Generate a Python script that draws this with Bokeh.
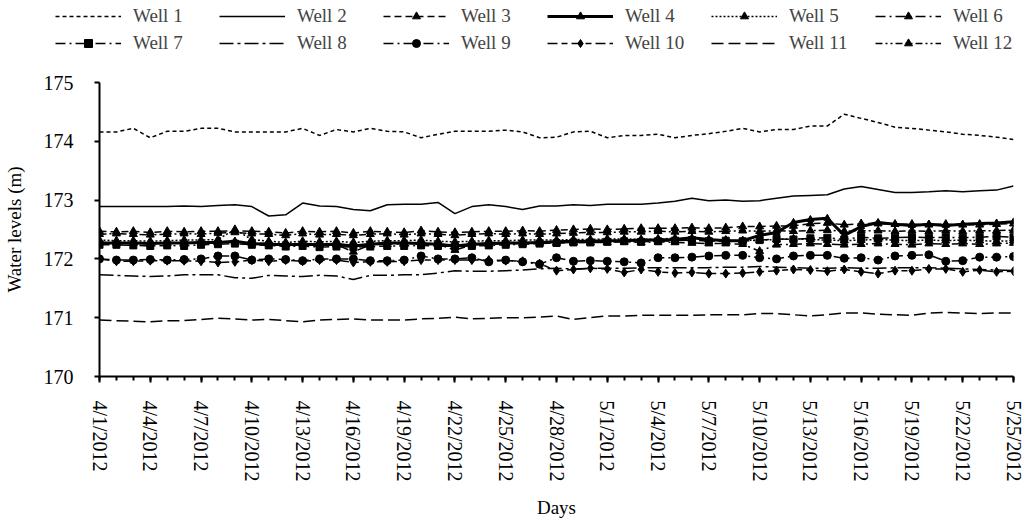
import math
import pandas as pd
from bokeh.plotting import figure
from bokeh.layouts import column, row
from bokeh.models import Range1d, FixedTicker, Legend, LegendItem
from bokeh.embed import file_html
from bokeh.resources import INLINE

dates = pd.date_range("2012-04-01", "2012-05-25")
date_labels = [f"{d.month}/{d.day}/{d.year}" for d in dates]
days = list(range(len(dates)))

well1 = [174.16, 174.16, 174.22, 174.06, 174.17, 174.17, 174.22, 174.22, 174.16, 174.16,
         174.16, 174.16, 174.22, 174.10, 174.20, 174.16, 174.22, 174.17, 174.16, 174.06,
         174.12, 174.17, 174.17, 174.17, 174.19, 174.16, 174.06, 174.07, 174.16, 174.17,
         174.06, 174.10, 174.10, 174.12, 174.06, 174.10, 174.13, 174.17, 174.22, 174.16,
         174.20, 174.20, 174.26, 174.26, 174.46, 174.39, 174.32, 174.24, 174.22, 174.19,
         174.16, 174.12, 174.10, 174.07, 174.03]
well2 = [172.89, 172.89, 172.89, 172.89, 172.89, 172.90, 172.89, 172.91, 172.92, 172.89,
         172.73, 172.75, 172.95, 172.90, 172.89, 172.84, 172.82, 172.92, 172.93, 172.93,
         172.96, 172.77, 172.89, 172.92, 172.89, 172.84, 172.90, 172.90, 172.92, 172.91,
         172.93, 172.93, 172.93, 172.95, 172.98, 173.03, 172.99, 173.00, 172.98, 172.99,
         173.03, 173.07, 173.08, 173.09, 173.19, 173.23, 173.18, 173.13, 173.13, 173.14,
         173.16, 173.14, 173.16, 173.17, 173.24]
well3 = [172.47, 172.46, 172.47, 172.45, 172.47, 172.46, 172.47, 172.47, 172.48, 172.47,
         172.46, 172.44, 172.47, 172.46, 172.47, 172.44, 172.47, 172.46, 172.45, 172.48,
         172.46, 172.45, 172.46, 172.47, 172.47, 172.48, 172.47, 172.49, 172.50, 172.51,
         172.50, 172.51, 172.52, 172.52, 172.52, 172.53, 172.52, 172.53, 172.55, 172.55,
         172.56, 172.56, 172.60, 172.61, 172.58, 172.60, 172.60, 172.59, 172.59, 172.58,
         172.59, 172.58, 172.58, 172.59, 172.60]
well4 = [172.27, 172.27, 172.27, 172.26, 172.27, 172.27, 172.28, 172.28, 172.30, 172.26,
         172.25, 172.24, 172.25, 172.24, 172.25, 172.22, 172.25, 172.27, 172.27, 172.26,
         172.25, 172.22, 172.25, 172.26, 172.27, 172.27, 172.28, 172.29, 172.30, 172.30,
         172.31, 172.31, 172.32, 172.32, 172.33, 172.36, 172.33, 172.31, 172.31, 172.40,
         172.45, 172.62, 172.67, 172.69, 172.40, 172.55, 172.62, 172.59, 172.57, 172.59,
         172.57, 172.59, 172.60, 172.61, 172.63]
well5 = [172.32, 172.31, 172.31, 172.30, 172.31, 172.32, 172.32, 172.33, 172.50, 172.33,
         172.30, 172.28, 172.30, 172.29, 172.30, 172.28, 172.30, 172.31, 172.31, 172.32,
         172.30, 172.29, 172.30, 172.31, 172.31, 172.32, 172.32, 172.32, 172.33, 172.33,
         172.34, 172.34, 172.33, 172.34, 172.35, 172.34, 172.33, 172.32, 172.31, 172.32,
         172.33, 172.34, 172.33, 172.32, 172.31, 172.32, 172.33, 172.32, 172.31, 172.32,
         172.31, 172.32, 172.31, 172.30, 172.31]
well6 = [172.28, 172.27, 172.27, 172.26, 172.27, 172.26, 172.27, 172.28, 172.29, 172.27,
         172.26, 172.25, 172.26, 172.25, 172.24, 172.12, 172.24, 172.25, 172.26, 172.26,
         172.25, 172.15, 172.24, 172.25, 172.26, 172.26, 172.27, 172.27, 172.28, 172.28,
         172.28, 172.29, 172.28, 172.29, 172.28, 172.27, 172.26, 172.26, 172.25, 172.13,
         172.24, 172.25, 172.26, 172.25, 172.24, 172.25, 172.26, 172.25, 172.24, 172.26,
         172.25, 172.26, 172.25, 172.26, 172.27]
well7 = [172.24, 172.24, 172.23, 172.22, 172.23, 172.22, 172.24, 172.25, 172.26, 172.24,
         172.23, 172.21, 172.22, 172.20, 172.21, 172.20, 172.21, 172.22, 172.22, 172.23,
         172.22, 172.21, 172.22, 172.23, 172.24, 172.25, 172.26, 172.27, 172.28, 172.28,
         172.29, 172.30, 172.29, 172.30, 172.31, 172.32, 172.30, 172.31, 172.30, 172.32,
         172.34, 172.33, 172.35, 172.36, 172.33, 172.37, 172.35, 172.36, 172.37, 172.36,
         172.37, 172.36, 172.37, 172.38, 172.37]
well8 = [171.73, 171.72, 171.71, 171.70, 171.71, 171.73, 171.73, 171.73, 171.68, 171.67,
         171.72, 171.71, 171.70, 171.72, 171.71, 171.65, 171.72, 171.72, 171.73, 171.73,
         171.76, 171.80, 171.79, 171.79, 171.80, 171.81, 171.83, 171.84, 171.83, 171.84,
         171.84, 171.84, 171.85, 171.85, 171.85, 171.85, 171.85, 171.86, 171.86, 171.87,
         171.86, 171.85, 171.84, 171.84, 171.85, 171.84, 171.84, 171.85, 171.85, 171.85,
         171.84, 171.83, 171.82, 171.81, 171.80]
well9 = [172.00, 171.98, 171.98, 171.99, 171.98, 171.99, 172.00, 172.05, 172.05, 171.98,
         172.00, 171.99, 171.97, 172.00, 172.00, 172.00, 171.97, 171.97, 171.98, 172.05,
         172.00, 172.00, 172.02, 171.95, 171.98, 171.95, 171.91, 172.02, 171.96, 171.97,
         171.96, 171.95, 171.93, 172.02, 172.02, 172.03, 172.05, 172.06, 172.06, 172.02,
         172.00, 172.05, 172.06, 172.06, 172.01, 172.02, 171.98, 172.05, 172.06, 172.07,
         171.96, 171.97, 172.03, 172.03, 172.04]
well10 = [172.00, 171.96, 171.96, 171.97, 171.97, 171.97, 171.96, 171.94, 171.95, 171.98,
          171.96, 171.98, 171.96, 171.98, 171.98, 171.94, 171.95, 171.95, 171.96, 171.98,
          171.98, 171.98, 171.98, 171.98, 171.97, 171.96, 171.92, 171.80, 171.82, 171.84,
          171.83, 171.77, 171.82, 171.78, 171.76, 171.77, 171.75, 171.75, 171.76, 171.78,
          171.80, 171.82, 171.81, 171.79, 171.82, 171.78, 171.75, 171.80, 171.80, 171.83,
          171.83, 171.78, 171.81, 171.78, 171.79]
well11 = [170.96, 170.95, 170.94, 170.93, 170.95, 170.95, 170.97, 170.99, 170.98, 170.96,
          170.97, 170.95, 170.93, 170.96, 170.97, 170.98, 170.96, 170.96, 170.96, 170.98,
          170.99, 171.01, 170.98, 170.99, 171.00, 171.00, 171.01, 171.03, 170.97, 171.00,
          171.03, 171.03, 171.04, 171.04, 171.04, 171.04, 171.05, 171.05, 171.05, 171.07,
          171.07, 171.05, 171.03, 171.05, 171.08, 171.08, 171.06, 171.05, 171.04, 171.08,
          171.09, 171.08, 171.07, 171.08, 171.08]
well12 = [172.42, 172.43, 172.42, 172.41, 172.42, 172.43, 172.42, 172.44, 172.45, 172.43,
          172.42, 172.40, 172.43, 172.41, 172.42, 172.40, 172.42, 172.43, 172.41, 172.43,
          172.42, 172.40, 172.42, 172.43, 172.42, 172.43, 172.42, 172.43, 172.44, 172.45,
          172.45, 172.46, 172.46, 172.47, 172.46, 172.47, 172.46, 172.47, 172.48, 172.47,
          172.48, 172.47, 172.48, 172.49, 172.47, 172.48, 172.48, 172.47, 172.48, 172.47,
          172.48, 172.47, 172.48, 172.48, 172.49]

series = [
    ("Well 1", well1, dict(line_dash="4 3", line_width=1.5), None),
    ("Well 2", well2, dict(line_dash="solid", line_width=1.5), None),
    ("Well 3", well3, dict(line_dash="7 4", line_width=1.5), ("triangle", 8)),
    ("Well 4", well4, dict(line_dash="solid", line_width=3), ("triangle", 7)),
    ("Well 5", well5, dict(line_dash="2 2", line_width=1.5), ("triangle", 8)),
    ("Well 6", well6, dict(line_dash="10 4 2 4", line_width=1.5), ("triangle", 8)),
    ("Well 7", well7, dict(line_dash="10 4 2 4", line_width=1.5), ("square", 7)),
    ("Well 8", well8, dict(line_dash="14 4 3 4", line_width=1.5), None),
    ("Well 9", well9, dict(line_dash="10 4 2 4", line_width=1.5), ("circle", 8)),
    ("Well 10", well10, dict(line_dash="10 4 6 4", line_width=1.5), ("diamond", 9)),
    ("Well 11", well11, dict(line_dash="12 5", line_width=1.5), None),
    ("Well 12", well12, dict(line_dash="7 3 2 3 2 3", line_width=1.5), ("triangle", 8)),
]

FONT = "Liberation Serif"
W, H = 1024, 526
LEG_H = 58
LEFT = 96
RIGHT = 11

# legend strip (its own small figure above the chart)
lf = figure(width=W, height=LEG_H, output_backend="svg", toolbar_location=None,
            x_range=Range1d(0, 54), y_range=Range1d(0, 1),
            x_axis_location=None, y_axis_location=None,
            min_border_left=0, min_border_right=0, min_border_top=0, min_border_bottom=0)
lf.outline_line_color = None
lf.xgrid.visible = False
lf.ygrid.visible = False

p = figure(width=W, height=H - LEG_H, output_backend="svg", toolbar_location=None,
           x_range=Range1d(0, 54), y_range=Range1d(170, 175),
           min_border_left=LEFT, min_border_right=RIGHT, min_border_top=24,
           min_border_bottom=150)
p.outline_line_color = None
p.xgrid.visible = False
p.ygrid.visible = False

items = []
for name, vals, lstyle, marker in series:
    p.line(days, vals, line_color="black", **lstyle)
    rs = [lf.line(days, vals, line_color="black", **lstyle)]
    if marker is not None:
        p.scatter(days, vals, marker=marker[0], size=marker[1],
                  fill_color="black", line_color="black")
        rs.append(lf.scatter(days, vals, marker=marker[0], size=marker[1],
                             fill_color="black", line_color="black"))
    items.append(LegendItem(label=name, renderers=rs))

legend = Legend(items=items, orientation="horizontal", ncols=6,
                location=(55, 4), glyph_width=66, glyph_height=20,
                label_standoff=12, label_width=81, spacing=5, padding=0, margin=0,
                label_text_font=FONT, label_text_font_size="19px",
                border_line_color=None, background_fill_alpha=0)
lf.add_layout(legend, "center")

xa = p.xaxis[0]
xa.ticker = FixedTicker(ticks=days[::3], minor_ticks=days)
xa.major_label_overrides = {d: date_labels[d] for d in days[::3]}
xa.major_label_orientation = -math.pi / 2
xa.axis_label = "Days"
xa.major_tick_out = 6
xa.major_tick_in = 0
xa.minor_tick_out = 4
xa.minor_tick_in = 0
xa.major_label_standoff = 18
xa.axis_label_standoff = 12
xa.major_label_text_font_size = "20px"

ya = p.yaxis[0]
ya.ticker = FixedTicker(ticks=[170, 171, 172, 173, 174, 175])
ya.axis_label = "Water levels (m)"
ya.major_tick_out = 5
ya.major_tick_in = 0
ya.minor_tick_out = 0
ya.minor_tick_in = 0
ya.major_label_standoff = 21
ya.axis_label_standoff = 16
ya.major_label_text_font_size = "20px"

for ax in (xa, ya):
    ax.axis_line_width = 2
    ax.axis_line_color = "black"
    ax.major_tick_line_color = "black"
    ax.major_tick_line_width = 2
    ax.minor_tick_line_color = "black"
    ax.minor_tick_line_width = 2
    ax.major_label_text_font = FONT
    ax.major_label_text_color = "black"
    ax.axis_label_text_font = FONT
    ax.axis_label_text_font_size = "19px"
    ax.axis_label_text_font_style = "normal"
    ax.axis_label_text_color = "black"

layout = column(row(lf), p, spacing=0)
open("out.html", "w").write(file_html(layout, INLINE))
